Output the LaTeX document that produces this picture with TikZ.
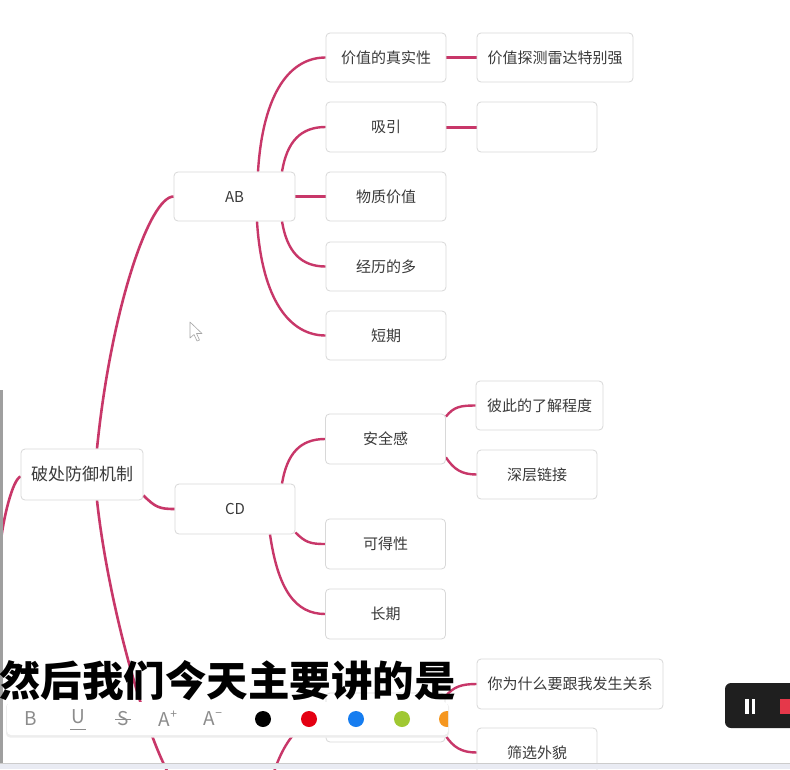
\documentclass[tikz,border=0pt]{standalone}
\usepackage{fontspec}
\setmainfont{Noto Sans CJK SC}
\usetikzlibrary{backgrounds}
\definecolor{linkc}{RGB}{200,55,105}
\definecolor{boxline}{RGB}{216,216,216}
\definecolor{textc}{RGB}{58,58,58}
\definecolor{iconc}{RGB}{140,140,140}
\definecolor{bandc}{RGB}{233,235,243}
\definecolor{dred}{RGB}{228,0,18}
\definecolor{dblue}{RGB}{22,125,240}
\definecolor{dgreen}{RGB}{160,200,50}
\definecolor{dorange}{RGB}{245,150,30}
\definecolor{recred}{RGB}{229,56,74}
\begin{document}
\begin{tikzpicture}[x=1pt,y=-1pt,
  box/.style={draw=boxline, fill=white, rounded corners=4pt, line width=0.8pt, inner sep=0pt,
    text=textc, font=\fontsize{15}{18}\selectfont, minimum width=120pt, minimum height=49pt},
  link/.style={draw=linkc, line width=2.4pt},
  icon/.style={inner sep=0pt, text=iconc, font=\fontsize{19}{22}\selectfont},
  dot/.style={circle, inner sep=0pt, minimum size=16pt}
]
\useasboundingbox (0,0) rectangle (790,769);

% ---------- nodes ----------
\node[box, minimum width=122pt, minimum height=51pt, font=\fontsize{17}{20}\selectfont] (root) at (82,474.5) {破处防御机制};
\node[box, minimum width=121pt] (AB) at (234.5,196.5) {AB};
\node[box, minimum height=50pt] (CD) at (235,509) {CD};

\node[box] (n1) at (386,57.5) {价值的真实性};
\node[box, minimum width=156pt] (n1b) at (555,57.5) {价值探测雷达特别强};
\node[box, minimum height=50pt] (n2) at (386,127) {吸引};
\node[box, minimum height=50pt] (n2b) at (537,127) {};
\node[box] (n3) at (386,196.5) {物质价值};
\node[box] (n4) at (386,266.5) {经历的多};
\node[box] (n5) at (386,335.5) {短期};

\node[box, minimum height=50pt] (s) at (385.5,439) {安全感};
\node[box, minimum width=127pt] (s1) at (539.5,405.5) {彼此的了解程度};
\node[box] (s2) at (537,474.5) {深层链接};
\node[box, minimum height=50pt] (k) at (385.5,544) {可得性};
\node[box, minimum height=50pt] (c) at (385.5,614) {长期};

\node[box, minimum width=119pt] (h) at (385.5,717.5) {};
\node[box, minimum width=186pt, minimum height=50pt] (h1) at (570,684) {你为什么要跟我发生关系};
\node[box] (h2) at (537,752.5) {筛选外貌};

\coordinate (offL) at (0,548);
\coordinate (lowA) at (190,800);
\coordinate (lowB) at (268,795);

% ---------- connectors ----------
\begin{scope}[on background layer]
\fill[white] (0,0) rectangle (790,769);
\draw[link, line width=2.6pt] ([yshift=-2pt]root.west) .. controls +(-8,3) and +(3,-30) .. (offL);
\draw[link, line width=2.6pt] ([xshift=15pt]root.north) .. controls +(14,-140) and +(-24,0) .. (AB.west);
\draw[link, line width=2.6pt] ([yshift=5pt]root.south east) .. controls +(12,12) and +(-15,0) .. (CD.west);
\draw[link, line width=2.6pt] ([xshift=15pt]root.south) .. controls +(13,120) and +(-30,-10) .. (lowA);

\draw[link] ([xshift=23.5pt]AB.north) .. controls +(5,-80) and +(-35,0) .. (n1.west);
\draw[link] ([xshift=47.5pt]AB.north) .. controls +(5,-30) and +(-25,0) .. (n2.west);
\draw[link] (AB.east) -- (n3.west);
\draw[link] ([xshift=47.5pt]AB.south) .. controls +(5,30) and +(-25,0) .. (n4.west);
\draw[link] ([xshift=22.5pt]AB.south) .. controls +(5,80) and +(-35,0) .. (n5.west);

\draw[link, line width=3.6pt] (n1.east) -- (n1b.west);
\draw[link, line width=3pt] (n2.east) -- (n2b.west);

\draw[link] ([xshift=47pt]CD.north) .. controls +(5,-30) and +(-25,0) .. (s.west);
\draw[link] ([yshift=2pt]CD.south east) .. controls +(10,10) and +(-15,0) .. (k.west);
\draw[link] ([xshift=35pt]CD.south) .. controls +(8,55) and +(-30,0) .. (c.west);

\draw[link] ([yshift=-3pt]s.north east) .. controls +(8,-10) and +(-15,0) .. (s1.west);
\draw[link] ([yshift=7pt]s.south east) .. controls +(8,12) and +(-15,0) .. (s2.west);

\draw[link] (lowB) .. controls +(10,-50) and +(-25,0) .. (h.west);
\draw[link] ([yshift=-4pt]h.north east) .. controls +(8,-10) and +(-15,0) .. (h1.west);
\draw[link] ([yshift=7pt]h.south east) .. controls +(8,12) and +(-15,0) .. (h2.west);
\end{scope}

% ---------- mouse cursor ----------
\draw[gray!70, fill=white, line width=0.6pt, line join=round]
  (190,322) -- (190,338) -- (194,334.5) -- (197,341) -- (199.5,340) -- (196.5,333.5) -- (202,333.5) -- cycle;

% ---------- left grey bar ----------
\fill[gray!75] (0,390) rectangle (2.5,769);

% ---------- subtitle ----------
\node[anchor=west, inner sep=0pt, text=black, font=\fontsize{41.5}{45}\selectfont\bfseries] (sub) at (-1,681) {然后我们今天主要讲的是};

% ---------- toolbar ----------
\fill[black!7, rounded corners=4pt] (6,703) rectangle (449,737.5);
\fill[white, rounded corners=4pt] (7,702) rectangle (448,735);
\node[icon] (tb) at (31,719) {B};
\node[icon] (tu) at (78,717) {U};
\draw[iconc, line width=0.8pt] (70,729.5) -- (86,729.5);
\node[icon] (ts) at (123,719) {S};
\draw[iconc, line width=0.8pt] (115,719) -- (131,719);
\node[icon] (ta) at (168,719) {A\raisebox{0.4em}{\fontsize{12}{12}\selectfont +}};
\node[icon] (tm) at (213,719) {A\raisebox{0.45em}{\fontsize{12}{12}\selectfont −}};
\node[dot, fill=black] (d1) at (263,719) {};
\node[dot, fill=dred] (d2) at (309,719) {};
\node[dot, fill=dblue] (d3) at (356,719) {};
\node[dot, fill=dgreen] (d4) at (402,719) {};
\begin{scope}
\clip (0,700) rectangle (448,740);
\node[dot, fill=dorange] (d5) at (447,719) {};
\end{scope}

% ---------- pause / record widget ----------
\fill[black!88, rounded corners=6pt] (725,683) rectangle (800,728);
\fill[white] (745,699) rectangle (748.5,714);
\fill[white] (751.5,699) rectangle (755,714);
\fill[recred] (780,699) rectangle (795,714);

% ---------- bottom band ----------
\fill[bandc] (0,763) rectangle (790,769);
\draw[black!20, line width=0.8pt] (0,763) -- (790,763);
\end{tikzpicture}
\end{document}
